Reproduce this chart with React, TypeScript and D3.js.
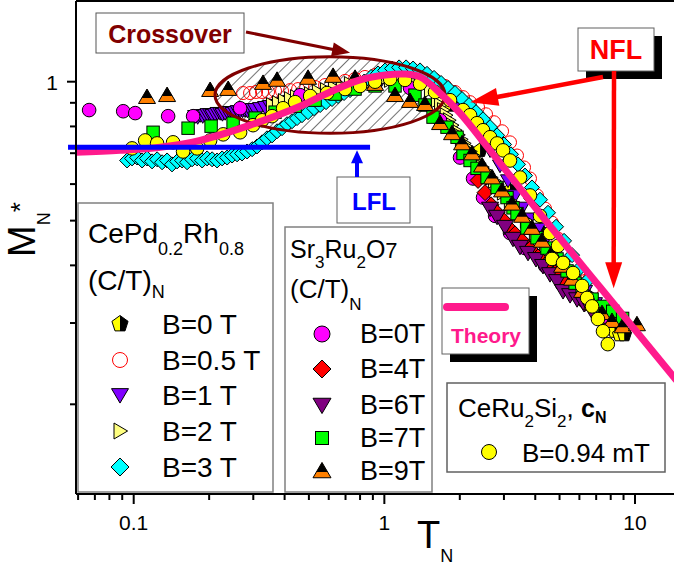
import React from 'react';
import * as d3 from 'd3';

const W = 674;
const H = 570;
const FONT = "'Liberation Sans', Arial, Helvetica, sans-serif";

// ---------- axes ----------
const X_MAJOR = [0.1, 1, 10];
const X_LABELS = ['0.1', '1', '10'];
const X_MINOR = [0.06, 0.07, 0.08, 0.09, 0.2, 0.3, 0.4, 0.5, 0.6, 0.7, 0.8, 0.9, 2, 3, 4, 5, 6, 7, 8, 9];
const Y_MAJOR = [1];
const Y_LABELS = ['1'];
const Y_MINOR = [0.2, 0.3, 0.4, 0.5, 0.6, 0.7, 0.8, 0.9];

// ---------- data: [T_N, M_N*] ----------
const THEORY: [number, number][] = [
  [0.055, 0.702], [0.0883, 0.71], [0.1276, 0.721], [0.1841, 0.746], [0.2912, 0.805], [0.4613, 0.885],
  [0.6073, 0.95], [0.8, 1.009], [1.007, 1.034], [1.209, 1.039], [1.388, 1.024], [1.668, 0.945],
  [2.004, 0.855], [2.641, 0.71], [4.178, 0.518], [7.246, 0.359], [14.3, 0.229], [16, 0.212],
];

// CePd0.2Rh0.8 (C/T)_N
const CEPD_B0: [number, number][] = [
  [1.828, 0.89], [2.409, 0.71], [3.172, 0.581], [4.178, 0.475], [5.023, 0.405],
  [5.767, 0.364], [6.207, 0.352], [6.62, 0.34], [6.923, 0.33], [7.246, 0.318], [7.578, 0.306],
  [7.925, 0.295], [8.298, 0.288], [8.678, 0.283], [9.075, 0.283],
];
const CEPD_B05: [number, number][] = [
  [0.2732, 0.945], [0.2912, 0.945], [0.3078, 0.95], [0.3252, 0.95], [0.3436, 0.95], [0.3664, 0.955],
  [0.3907, 0.955], [0.4207, 0.959], [0.4527, 0.964], [0.4871, 0.969], [0.5292, 0.974], [0.58, 0.9835],
  [0.6358, 0.9935], [0.697, 1.004], [0.7641, 1.014], [0.8367, 1.024], [0.9182, 1.034], [1.007, 1.039],
  [1.103, 1.045], [1.209, 1.045], [1.325, 1.039], [1.453, 1.029], [1.593, 1.009], [1.746, 0.979],
  [1.914, 0.95], [2.06, 0.926], [2.198, 0.903], [2.365, 0.881], [2.545, 0.85], [2.739, 0.817],
  [2.949, 0.781], [3.172, 0.739], [3.383, 0.692], [3.608, 0.652], [3.811, 0.617], [4.065, 0.567],
  [4.375, 0.531], [4.666, 0.495], [4.932, 0.457], [5.212, 0.43], [5.558, 0.403], [5.929, 0.385],
  [6.322, 0.37], [6.741, 0.355],
];
const CEPD_B1: [number, number][] = [
  [0.1758, 0.842], [0.18, 0.838], [0.1841, 0.846], [0.1885, 0.842], [0.1928, 0.846], [0.197, 0.85],
  [0.2018, 0.85], [0.206, 0.846], [0.2112, 0.85], [0.216, 0.855], [0.2213, 0.855], [0.226, 0.851],
  [0.2316, 0.855], [0.237, 0.859], [0.2424, 0.859], [0.248, 0.855], [0.2537, 0.859], [0.26, 0.863],
  [0.2658, 0.863], [0.272, 0.866], [0.2782, 0.868], [0.2845, 0.865], [0.2912, 0.868], [0.298, 0.872],
  [0.305, 0.872], [0.3192, 0.876], [0.3343, 0.881], [0.3499, 0.885], [0.3664, 0.89], [0.3837, 0.894],
  [0.4017, 0.899], [0.4207, 0.908], [0.4406, 0.912], [0.4613, 0.917], [0.4961, 0.922], [0.5341, 0.931],
  [0.5747, 0.94], [0.6184, 0.95], [0.6656, 0.959], [0.7297, 0.969], [0.8, 0.979], [0.877, 0.9885],
  [0.9612, 0.998], [1.054, 1.004], [1.155, 1.009], [1.266, 1.009], [1.388, 1.004], [1.522, 0.9885],
  [1.668, 0.969], [1.828, 0.926], [2.004, 0.876], [2.198, 0.825], [2.409, 0.765], [2.641, 0.71],
  [2.893, 0.658], [3.114, 0.611], [3.321, 0.567], [3.543, 0.533], [3.811, 0.505], [4.103, 0.48],
  [4.416, 0.457], [4.797, 0.434], [5.26, 0.405], [5.767, 0.377], [6.322, 0.352], [6.923, 0.331],
];
const CEPD_B2: [number, number][] = [
  [0.3565, 0.89], [0.3767, 0.899], [0.398, 0.908], [0.4207, 0.917], [0.4444, 0.926], [0.4693, 0.931],
  [0.5058, 0.94], [0.5438, 0.95], [0.5854, 0.959], [0.63, 0.969], [0.6779, 0.979], [0.7297, 0.9885],
  [0.8, 0.9935], [0.877, 0.998], [0.9612, 1.004], [1.054, 1.009], [1.155, 1.009], [1.266, 1.004],
  [1.388, 0.9885], [1.522, 0.959], [1.623, 0.912], [1.67, 0.89], [1.715, 0.868], [1.76, 0.846],
  [1.812, 0.825], [1.86, 0.805], [1.914, 0.785], [1.97, 0.767], [2.023, 0.75], [2.08, 0.735],
  [2.138, 0.721], [2.2, 0.706], [2.259, 0.692], [2.32, 0.679], [2.387, 0.665], [2.455, 0.653],
  [2.522, 0.642], [2.59, 0.631], [2.665, 0.62], [2.74, 0.61], [2.817, 0.599], [2.975, 0.575],
  [3.172, 0.552], [3.414, 0.525], [3.675, 0.5], [3.99, 0.47], [4.375, 0.443], [4.797, 0.417],
  [5.26, 0.393], [5.767, 0.37], [6.322, 0.346], [6.923, 0.326], [7.578, 0.306],
];
const CEPD_B3: [number, number][] = [
  [0.0941, 0.675], [0.0985, 0.682], [0.1032, 0.685], [0.108, 0.675], [0.113, 0.682], [0.1184, 0.672],
  [0.124, 0.679], [0.1298, 0.669], [0.1359, 0.675], [0.1422, 0.662], [0.149, 0.672], [0.156, 0.675],
  [0.1633, 0.669], [0.171, 0.679], [0.1791, 0.682], [0.1875, 0.675], [0.1963, 0.682], [0.2055, 0.679],
  [0.2151, 0.675], [0.2253, 0.682], [0.2359, 0.685], [0.2469, 0.692], [0.2585, 0.696], [0.2706, 0.699],
  [0.2834, 0.706], [0.2968, 0.714], [0.3105, 0.724], [0.3252, 0.739], [0.3404, 0.754], [0.3565, 0.765],
  [0.3732, 0.781], [0.3907, 0.793], [0.4091, 0.809], [0.4283, 0.821], [0.4485, 0.834], [0.4693, 0.846],
  [0.4961, 0.859], [0.5243, 0.876], [0.5546, 0.89], [0.5854, 0.903], [0.6184, 0.917], [0.6535, 0.931],
  [0.6906, 0.945], [0.7297, 0.959], [0.7783, 0.979], [0.829, 1.0], [0.8849, 1.024], [0.9438, 1.042],
  [1.007, 1.058], [1.073, 1.068], [1.145, 1.074], [1.221, 1.074], [1.302, 1.068], [1.388, 1.058],
  [1.48, 1.04], [1.579, 1.019], [1.684, 0.9935], [1.795, 0.969], [1.914, 0.945], [2.042, 0.917],
  [2.177, 0.89], [2.322, 0.859], [2.476, 0.829], [2.641, 0.797], [2.817, 0.765], [3.003, 0.731],
  [3.201, 0.696], [3.414, 0.662], [3.642, 0.626], [3.882, 0.59], [4.178, 0.555], [4.498, 0.52],
  [4.842, 0.485], [5.212, 0.452], [5.61, 0.421], [6.039, 0.395], [6.497, 0.372],
];

// Sr3Ru2O7 (C/T)_N
const SR_B0: [number, number][] = [
  [0.0664, 0.868], [0.0908, 0.863], [0.1014, 0.855], [0.1372, 0.842], [0.1726, 0.842],
  [0.2658, 0.876], [0.4613, 0.935], [0.8, 0.9835], [1.266, 0.969], [1.668, 0.825],
  [2.004, 0.685], [2.259, 0.617], [2.476, 0.561], [2.766, 0.512], [3.172, 0.47], [3.642, 0.436],
  [4.375, 0.399], [5.26, 0.364], [6.322, 0.334], [7.578, 0.31],
];
const SR_B4: [number, number][] = [
  [2.365, 0.611], [2.522, 0.575], [2.665, 0.541], [2.817, 0.52], [2.975, 0.502], [3.143, 0.482],
  [3.321, 0.468], [3.543, 0.452], [3.811, 0.434], [4.103, 0.417], [4.416, 0.401], [4.797, 0.385],
  [5.26, 0.366], [5.767, 0.348], [6.322, 0.331],
];
const SR_B6: [number, number][] = [
  [2.641, 0.531], [2.817, 0.51], [3.03, 0.485], [3.261, 0.457], [3.478, 0.439], [3.743, 0.426],
  [4.028, 0.413], [4.296, 0.399], [4.581, 0.383], [4.886, 0.37], [5.164, 0.352], [5.508, 0.345],
  [5.874, 0.338], [6.264, 0.33], [6.679, 0.321],
];
const SR_B7: [number, number][] = [
  [0.1195, 0.777], [0.1648, 0.793], [0.2036, 0.801], [0.2492, 0.813], [0.305, 0.834], [0.3664, 0.859],
  [0.4406, 0.885], [0.5292, 0.912], [0.6358, 0.94], [0.7641, 0.964], [0.9182, 0.979], [1.103, 0.979],
  [1.325, 0.935], [1.453, 0.89], [1.564, 0.838], [1.778, 0.797], [1.95, 0.758], [2.06, 0.699],
  [2.198, 0.675], [2.343, 0.649], [2.569, 0.62], [2.817, 0.59], [3.086, 0.561], [3.261, 0.533],
  [3.383, 0.518], [3.707, 0.482], [4.065, 0.459], [4.456, 0.436], [4.886, 0.413], [5.357, 0.389],
  [5.767, 0.366], [6.151, 0.352], [6.741, 0.338], [7.453, 0.326], [8.147, 0.318], [8.922, 0.307],
];
const SR_B9: [number, number][] = [
  [0.113, 0.926], [0.1359, 0.935], [0.2018, 0.959], [0.2382, 0.964], [0.3281, 0.9935], [0.3732, 1.009],
  [0.4961, 1.019], [0.6244, 1.029], [0.7641, 1.019], [0.9182, 0.9885], [1.103, 0.935], [1.266, 0.908],
  [1.453, 0.894], [1.668, 0.813], [1.862, 0.773], [2.042, 0.735], [2.238, 0.699], [2.454, 0.658],
  [2.689, 0.62], [2.949, 0.581], [3.231, 0.544], [3.543, 0.512], [3.882, 0.482], [4.256, 0.452],
  [4.666, 0.426], [5.115, 0.399], [5.61, 0.374], [6.151, 0.352], [6.741, 0.331], [7.385, 0.315],
  [8.095, 0.303], [8.922, 0.295], [10.18, 0.298],
];

// CeRu2Si2 c_N
const CERU_B: [number, number][] = [
  [0.0985, 0.717], [0.1111, 0.746], [0.124, 0.735], [0.1436, 0.739], [0.1574, 0.706], [0.1791, 0.717],
  [0.2018, 0.746], [0.2275, 0.769], [0.2658, 0.777], [0.2993, 0.805], [0.3252, 0.825], [0.3565, 0.842],
  [0.3945, 0.876], [0.4406, 0.903], [0.5058, 0.931], [0.5907, 0.945], [0.697, 0.964], [0.8, 0.979],
  [0.9182, 1.0], [1.054, 1.014], [1.209, 1.009], [1.388, 0.99], [1.593, 0.95], [1.828, 0.912],
  [2.06, 0.868], [2.198, 0.846], [2.343, 0.813], [2.476, 0.785], [2.641, 0.758], [2.817, 0.735],
  [2.975, 0.71], [3.172, 0.675], [3.478, 0.62], [3.811, 0.567], [4.178, 0.512], [4.581, 0.47],
  [4.932, 0.441], [4.666, 0.413], [5.164, 0.405], [5.662, 0.385], [6.151, 0.361], [6.439, 0.34],
  [6.741, 0.326], [7.115, 0.306], [7.453, 0.288], [7.791, 0.27],
];

// annotations (data units)
const LFL_LEVEL = 0.721;
const LFL_T = [0.0547, 0.877];
const LFL_ARROW_T = 0.778;
const LFL_ARROW_TIP_M = 0.71;
const CROSS_ELLIPSE_T = [0.211, 1.746];
const CROSS_ELLIPSE_M = [0.773, 1.132];
const CROSS_TIP: [number, number] = [0.73, 1.155];
const NFL_TIP1: [number, number] = [2.2, 0.903];
const NFL_TIP2: [number, number] = [8.22, 0.357];

// ---------- scales ----------
const x = d3.scaleLog().domain([0.1, 10]).range([133.7, 635]);
const y = d3.scaleLog().domain([1, 0.2]).range([81.7, 404.3]);
const PL = 76, PT = 1, PB = 494;

const PINK = '#ff1a8c';

type Shape = 'circle' | 'open' | 'square' | 'diamond' | 'triUp' | 'triDown' | 'triRight' | 'pentagon' | 'triUpHalf';

function pts(arr: number[][], cx: number, cy: number) {
  return arr.map(([a, b]) => `${(cx + a).toFixed(2)},${(cy + b).toFixed(2)}`).join(' ');
}

function Marker({ shape, cx, cy, s, fill }: { shape: Shape; cx: number; cy: number; s: number; fill: string }) {
  const st = { stroke: '#000', strokeWidth: 1 };
  switch (shape) {
    case 'circle':
      return <circle cx={cx} cy={cy} r={s} fill={fill} {...st} />;
    case 'open':
      return <circle cx={cx} cy={cy} r={s} fill="none" stroke={fill} strokeWidth={1} />;
    case 'square':
      return <rect x={cx - s} y={cy - s} width={2 * s} height={2 * s} fill={fill} {...st} />;
    case 'diamond':
      return <polygon points={pts([[0, -s], [s, 0], [0, s], [-s, 0]], cx, cy)} fill={fill} {...st} />;
    case 'triDown':
      return <polygon points={pts([[-s, -0.75 * s], [s, -0.75 * s], [0, 0.95 * s]], cx, cy)} fill={fill} {...st} />;
    case 'triUp':
      return <polygon points={pts([[0, -0.95 * s], [s, 0.75 * s], [-s, 0.75 * s]], cx, cy)} fill={fill} {...st} />;
    case 'triRight':
      return <polygon points={pts([[-0.75 * s, -s], [0.95 * s, 0], [-0.75 * s, s]], cx, cy)} fill={fill} {...st} />;
    case 'triUpHalf': {
      const t = 0.62;
      const top = -0.95 * s, bot = 0.75 * s;
      const yb = top + (bot - top) * t;
      return (
        <g>
          <polygon points={pts([[0, top], [s, bot], [-s, bot]], cx, cy)} fill="#ff8000" />
          <polygon points={pts([[0, top], [s * t, yb], [-s * t, yb]], cx, cy)} fill="#000" />
          <polygon points={pts([[0, top], [s, bot], [-s, bot]], cx, cy)} fill="none" {...st} />
        </g>
      );
    }
    case 'pentagon': {
      const a = (deg: number) => [s * Math.cos((deg * Math.PI) / 180), s * Math.sin((deg * Math.PI) / 180)];
      const p0 = a(-90), p1 = a(-18), p2 = a(54), p3 = a(126), p4 = a(198);
      const bc = [0, p2[1]];
      return (
        <g>
          <polygon points={pts([p0, bc, p3, p4], cx, cy)} fill="#ffff00" />
          <polygon points={pts([p0, p1, p2, bc], cx, cy)} fill="#000" />
          <polygon points={pts([p0, p1, p2, p3, p4], cx, cy)} fill="none" {...st} />
        </g>
      );
    }
  }
  return null;
}

const SERIES: { data: [number, number][]; shape: Shape; fill: string; s: number }[] = [
  { data: CEPD_B0, shape: 'pentagon', fill: '', s: 7.5 },
  { data: CEPD_B05, shape: 'open', fill: '#ff0000', s: 6.5 },
  { data: CEPD_B1, shape: 'triDown', fill: '#8000ff', s: 7.5 },
  { data: CEPD_B2, shape: 'triRight', fill: '#ffff80', s: 7.5 },
  { data: CEPD_B3, shape: 'diamond', fill: '#00ffff', s: 7.5 },
  { data: SR_B0, shape: 'circle', fill: '#ff00ff', s: 6.8 },
  { data: SR_B4, shape: 'diamond', fill: '#ff0000', s: 8 },
  { data: SR_B6, shape: 'triDown', fill: '#800080', s: 8.5 },
  { data: SR_B7, shape: 'square', fill: '#00ff00', s: 6.2 },
  { data: SR_B9, shape: 'triUpHalf', fill: '', s: 8.5 },
  { data: CERU_B, shape: 'circle', fill: '#ffff00', s: 6.8 },
];

function Arrow({ x1, y1, x2, y2, color, width, headLen, headW }: any) {
  const dx = x2 - x1, dy = y2 - y1;
  const L = Math.hypot(dx, dy);
  const ux = dx / L, uy = dy / L;
  const bx = x2 - ux * headLen, by = y2 - uy * headLen;
  const px = -uy, py = ux;
  return (
    <g>
      <line x1={x1} y1={y1} x2={bx + ux * 2} y2={by + uy * 2} stroke={color} strokeWidth={width} />
      <polygon
        points={`${x2},${y2} ${bx + px * headW},${by + py * headW} ${bx - px * headW},${by - py * headW}`}
        fill={color}
      />
    </g>
  );
}

export default function App() {
  const line = d3
    .line<[number, number]>()
    .x((d) => x(d[0]))
    .y((d) => y(d[1]))
    .curve(d3.curveCatmullRom.alpha(0.5));

  const ex0 = x(CROSS_ELLIPSE_T[0]), ex1 = x(CROSS_ELLIPSE_T[1]);
  const ey0 = y(CROSS_ELLIPSE_M[1]), ey1 = y(CROSS_ELLIPSE_M[0]);
  const ecx = (ex0 + ex1) / 2, ecy = (ey0 + ey1) / 2, erx = (ex1 - ex0) / 2, ery = (ey1 - ey0) / 2;

  const leg1 = [
    { label: 'B=0 T', shape: 'pentagon' as Shape, fill: '', s: 8.5 },
    { label: 'B=0.5 T', shape: 'open' as Shape, fill: '#ff0000', s: 7.5 },
    { label: 'B=1 T', shape: 'triDown' as Shape, fill: '#8000ff', s: 8.5 },
    { label: 'B=2 T', shape: 'triRight' as Shape, fill: '#ffff80', s: 8 },
    { label: 'B=3 T', shape: 'diamond' as Shape, fill: '#00ffff', s: 9 },
  ];
  const leg1Y = [334, 370, 405, 441, 477];
  const leg2 = [
    { label: 'B=0T', shape: 'circle' as Shape, fill: '#ff00ff', s: 8 },
    { label: 'B=4T', shape: 'diamond' as Shape, fill: '#ff0000', s: 9 },
    { label: 'B=6T', shape: 'triDown' as Shape, fill: '#800080', s: 9 },
    { label: 'B=7T', shape: 'square' as Shape, fill: '#00ff00', s: 6.5 },
    { label: 'B=9T', shape: 'triUpHalf' as Shape, fill: '', s: 9 },
  ];
  const leg2Y = [343, 378, 414, 447, 480];

  return (
    <svg width={W} height={H} style={{ position: 'absolute', left: 0, top: 0, background: '#fff' }} fontFamily={FONT}>
      <defs>
        <clipPath id="plotClip">
          <rect x={PL} y={PT} width={W - PL + 10} height={PB - PT} />
        </clipPath>
        <clipPath id="ellClip">
          <ellipse cx={ecx} cy={ecy} rx={erx} ry={ery} />
        </clipPath>
        <pattern id="hatch" patternUnits="userSpaceOnUse" width="8" height="8" patternTransform="rotate(45)">
          <line x1="0" y1="-1" x2="0" y2="9" stroke="#000" strokeWidth="1.1" />
        </pattern>
      </defs>
      <rect x={0} y={0} width={W} height={H} fill="#fff" />

      {/* crossover hatch */}
      <rect x={ex0} y={ey0} width={erx * 2} height={ery * 2} fill="url(#hatch)" clipPath="url(#ellClip)" />

      {/* data */}
      <g clipPath="url(#plotClip)">
        {SERIES.map((ser, si) => (
          <g key={si}>
            {ser.data.map((d, i) => (
              <Marker key={i} shape={ser.shape} cx={x(d[0])} cy={y(d[1])} s={ser.s} fill={ser.fill} />
            ))}
          </g>
        ))}
        <ellipse cx={ecx} cy={ecy} rx={erx} ry={ery} fill="none" stroke="#800000" strokeWidth={3} />
        <path d={line(THEORY) || ''} fill="none" stroke={PINK} strokeWidth={7} />
      </g>

      {/* LFL line */}
      <line x1={x(LFL_T[0])} x2={x(LFL_T[1])} y1={y(LFL_LEVEL)} y2={y(LFL_LEVEL)} stroke="#0000ff" strokeWidth={5} />

      {/* axes */}
      <line x1={PL} x2={W} y1={PT} y2={PT} stroke="#000" strokeWidth={2} />
      <line x1={PL} x2={PL} y1={PT} y2={PB} stroke="#000" strokeWidth={2} />
      <line x1={PL} x2={W} y1={PB} y2={PB} stroke="#000" strokeWidth={2} />
      {X_MAJOR.map((v, i) => (
        <g key={'xm' + i}>
          <line x1={x(v)} x2={x(v)} y1={PB} y2={PB + 10} stroke="#000" strokeWidth={2} />
          <text x={x(v)} y={530} fontSize={21} textAnchor="middle">{X_LABELS[i]}</text>
        </g>
      ))}
      {X_MINOR.map((v, i) => (
        <line key={'xn' + i} x1={x(v)} x2={x(v)} y1={PB} y2={PB + 6} stroke="#000" strokeWidth={2} />
      ))}
      {Y_MAJOR.map((v, i) => (
        <g key={'ym' + i}>
          <line x1={PL - 9} x2={PL} y1={y(v)} y2={y(v)} stroke="#000" strokeWidth={2} />
          <text x={58} y={y(v) + 8} fontSize={21} textAnchor="end">{Y_LABELS[i]}</text>
        </g>
      ))}
      {Y_MINOR.map((v, i) => (
        <line key={'yn' + i} x1={PL - 6} x2={PL} y1={y(v)} y2={y(v)} stroke="#000" strokeWidth={2} />
      ))}

      {/* axis titles */}
      <g transform="translate(35,257) rotate(-90)">
        <text x={0} y={0} fontSize={38}>
          M<tspan fontSize={18} dy={15}>N</tspan>
          <tspan fontSize={26} dy={-21}>*</tspan>
        </text>
      </g>
      <text x={417} y={548} fontSize={38}>
        T<tspan fontSize={18} dy={14}>N</tspan>
      </text>

      {/* legend 1 */}
      <rect x={78} y={203} width={195} height={289} fill="#fff" stroke="#808080" strokeWidth={1.5} />
      <text x={88} y={243} fontSize={28}>
        CePd<tspan fontSize={18} dy={12}>0.2</tspan>
        <tspan fontSize={28} dy={-12}>Rh</tspan>
        <tspan fontSize={18} dy={12}>0.8</tspan>
      </text>
      <text x={88} y={290} fontSize={28}>
        (C/T)<tspan fontSize={18} dy={8}>N</tspan>
      </text>
      {leg1.map((l, i) => (
        <g key={'l1' + i}>
          <Marker shape={l.shape} cx={120} cy={leg1Y[i] - 10} s={l.s} fill={l.fill} />
          <text x={162} y={leg1Y[i]} fontSize={28}>{l.label}</text>
        </g>
      ))}

      {/* legend 2 */}
      <rect x={285} y={227} width={147} height={265} fill="#fff" stroke="#808080" strokeWidth={1.5} />
      <text x={290} y={258} fontSize={25}>
        Sr<tspan fontSize={17} dy={10}>3</tspan>
        <tspan fontSize={25} dy={-10}>Ru</tspan>
        <tspan fontSize={17} dy={10}>2</tspan>
        <tspan fontSize={25} dy={-10}>O</tspan>
        <tspan fontSize={22}>7</tspan>
      </text>
      <text x={290} y={298} fontSize={26}>
        (C/T)<tspan fontSize={17} dy={12}>N</tspan>
      </text>
      {leg2.map((l, i) => (
        <g key={'l2' + i}>
          <Marker shape={l.shape} cx={322} cy={leg2Y[i] - 9} s={l.s} fill={l.fill} />
          <text x={360} y={leg2Y[i]} fontSize={27}>{l.label}</text>
        </g>
      ))}

      {/* legend 3 */}
      <rect x={447} y={383} width={218} height={89} fill="#fff" stroke="#606060" strokeWidth={1.5} />
      <text x={458} y={417} fontSize={26}>
        CeRu<tspan fontSize={17} dy={10}>2</tspan>
        <tspan fontSize={26} dy={-10}>Si</tspan>
        <tspan fontSize={17} dy={10}>2</tspan>
        <tspan fontSize={26} dy={-10}>, </tspan>
        <tspan fontSize={25} fontWeight="bold">c</tspan>
        <tspan fontSize={16} fontWeight="bold" dy={6}>N</tspan>
      </text>
      <Marker shape="circle" cx={489} cy={452} s={7.5} fill="#ffff00" />
      <text x={522} y={462} fontSize={26}>B=0.94 mT</text>

      {/* Theory legend */}
      <rect x={450} y={296} width={87} height={66} fill="#000" />
      <rect x={442} y={288} width={87} height={66} fill="#fff" stroke="#606060" strokeWidth={1} />
      <line x1={447} x2={505} y1={307} y2={307} stroke={PINK} strokeWidth={8} strokeLinecap="round" />
      <text x={486} y={343} fontSize={21} fontWeight="bold" fill={PINK} textAnchor="middle">Theory</text>

      {/* Crossover annotation */}
      <rect x={96} y={13} width={148} height={40} fill="#fff" stroke="#555" strokeWidth={1} />
      <text x={170} y={43} fontSize={25} fontWeight="bold" fill="#800000" textAnchor="middle">Crossover</text>
      <Arrow x1={246} y1={32} x2={x(CROSS_TIP[0])} y2={y(CROSS_TIP[1])} color="#800000" width={3} headLen={18} headW={7} />

      {/* LFL annotation */}
      <rect x={337} y={177} width={73} height={46} fill="#fff" stroke="#606060" strokeWidth={1} />
      <text x={374} y={210} fontSize={24} fontWeight="bold" fill="#0000ff" textAnchor="middle">LFL</text>
      <Arrow x1={x(LFL_ARROW_T)} y1={177} x2={x(LFL_ARROW_T)} y2={y(LFL_ARROW_TIP_M)} color="#0000ff" width={4} headLen={13} headW={6} />

      {/* NFL annotation */}
      <rect x={586} y={36} width={76} height={43} fill="#000" />
      <rect x={578} y={28} width={76} height={43} fill="#fff" stroke="#606060" strokeWidth={1} />
      <text x={616} y={59} fontSize={27} fontWeight="bold" fill="#ff0000" textAnchor="middle">NFL</text>
      <Arrow x1={603} y1={77} x2={x(NFL_TIP1[0])} y2={y(NFL_TIP1[1])} color="#ff0000" width={4.5} headLen={28} headW={9} />
      <Arrow x1={614} y1={71} x2={x(NFL_TIP2[0])} y2={y(NFL_TIP2[1])} color="#ff0000" width={4.5} headLen={26} headW={8.5} />
    </svg>
  );
}
